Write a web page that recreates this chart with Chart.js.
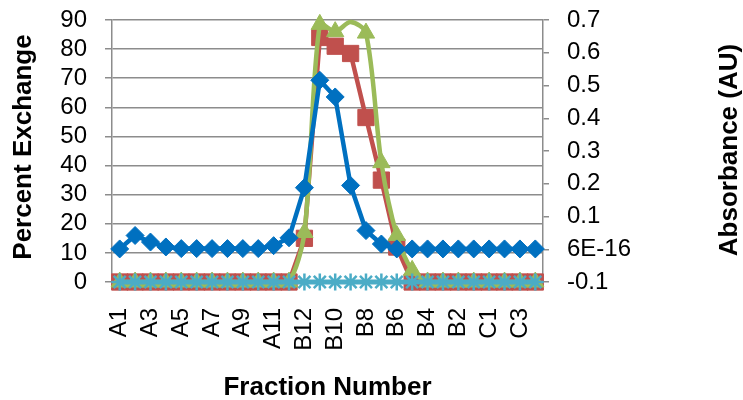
<!DOCTYPE html>
<html>
<head>
<meta charset="utf-8">
<script src="https://cdn.jsdelivr.net/npm/chart.js@4.4.1/dist/chart.umd.min.js"></script>
<style>
  html, body { margin: 0; padding: 0; background: #ffffff; }
  #wrap { width: 743px; height: 400px; }
</style>
</head>
<body>
<div id="wrap"><canvas id="chart" width="743" height="400"></canvas></div>
<script>
// Fractions collected across the elution (plate rows A, B, C)
const fractions = [
  'A1','A2','A3','A4','A5','A6','A7','A8','A9','A10','A11','A12',
  'B12','B11','B10','B9','B8','B7','B6','B5','B4','B3','B2','B1',
  'C1','C2','C3','C4'
];

// Percent exchange, left axis
const exchangeRed = [
  0, 0, 0, 0, 0, 0, 0, 0, 0, 0, 0, 0,
  15, 84, 81, 78.5, 56.5, 35, 12, 0, 0, 0, 0, 0,
  0, 0, 0, 0
];
const exchangeGreen = [
  0, 0, 0, 0, 0, 0, 0, 0, 0, 0, 0, 0,
  17, 88.5, 86, 89.3, 85.5, 41, 16, 4, 0, 0, 0, 0,
  0, 0, 0, 0
];
const exchangeTeal = [
  0, 0, 0, 0, 0, 0, 0, 0, 0, 0, 0, 0,
  0, 0, 0, 0, 0, 0, 0, 0, 0, 0, 0, 0,
  0, 0, 0, 0
];

// Absorbance (AU), right axis
const absorbanceBlue = [
  0.001, 0.042, 0.022, 0.007, 0.002, 0.002, 0.002, 0.002, 0.002, 0.002, 0.011, 0.035,
  0.188, 0.516, 0.465, 0.195, 0.057, 0.016, 0.001, 0.001, 0.001, 0.001, 0.001, 0.001,
  0.001, 0.001, 0.001, 0.001
];

// Axis ticks
const leftTickValues = [0, 10, 20, 30, 40, 50, 60, 70, 80, 90];
const rightTickValues = [-0.1, 0, 0.1, 0.2, 0.3, 0.4, 0.5, 0.6, 0.7];
const rightTickLabels = ['-0.1', '6E-16', '0.1', '0.2', '0.3', '0.4', '0.5', '0.6', '0.7'];

const FONT = "'Liberation Sans', Arial, Helvetica, sans-serif";
const GRID = '#8c8c8c';
const BLUE = '#0070C0', RED = '#C0504D', GREEN = '#9BBB59', TEAL = '#4BACC6';

// Axis titles; the vertical ones read bottom-to-top
const axisTitles = {
  id: 'axisTitles',
  afterDraw(chart) {
    const { ctx, chartArea } = chart;
    ctx.save();
    ctx.fillStyle = '#000000';
    ctx.font = 'bold 26px ' + FONT;
    ctx.textAlign = 'center';
    ctx.textBaseline = 'middle';
    ctx.fillText('Fraction Number', (chartArea.left + chartArea.right) / 2, 388);

    ctx.save();
    ctx.translate(24, 147);
    ctx.rotate(-Math.PI / 2);
    ctx.fillText('Percent Exchange', 0, 0);
    ctx.restore();

    ctx.save();
    ctx.translate(730, 150);
    ctx.rotate(-Math.PI / 2);
    ctx.fillText('Absorbance (AU)', 0, 0);
    ctx.restore();
    ctx.restore();
  }
};

// Fixed axis box sizes so the plot area sits at 112..543 x 20..282
function fixVertical(width) {
  return (scale) => {
    scale.width = width;
    scale.paddingTop = 0;
    scale.paddingBottom = 0;
  };
}

new Chart(document.getElementById('chart'), {
  type: 'line',
  data: {
    labels: fractions,
    datasets: [
      {
        label: 'Absorbance',
        data: absorbanceBlue,
        yAxisID: 'y1',
        clip: false,
        borderColor: BLUE,
        backgroundColor: BLUE,
        borderWidth: 4.5,
        pointStyle: 'rectRot',
        pointRadius: 9,
        pointBorderWidth: 1,
        pointBackgroundColor: BLUE,
        pointBorderColor: BLUE,
        tension: 0
      },
      {
        label: 'Exchange 3',
        data: exchangeTeal,
        yAxisID: 'y',
        clip: false,
        borderColor: TEAL,
        backgroundColor: TEAL,
        borderWidth: 5,
        pointStyle: 'star',
        pointRadius: 8.5,
        pointBorderWidth: 2.5,
        pointBorderColor: TEAL,
        tension: 0
      },
      {
        label: 'Exchange 2',
        data: exchangeGreen,
        yAxisID: 'y',
        clip: false,
        borderColor: GREEN,
        backgroundColor: GREEN,
        borderWidth: 4.5,
        pointStyle: 'triangle',
        pointRadius: (ctx) => (ctx.dataIndex === 15 ? 0 : 10),
        pointBorderWidth: 1,
        pointBackgroundColor: GREEN,
        pointBorderColor: GREEN,
        tension: 0.3
      },
      {
        label: 'Exchange 1',
        data: exchangeRed,
        yAxisID: 'y',
        clip: false,
        borderColor: RED,
        backgroundColor: RED,
        borderWidth: 4.5,
        pointStyle: 'rect',
        pointRadius: 11.5,
        pointBorderWidth: 1,
        pointBackgroundColor: RED,
        pointBorderColor: RED,
        tension: 0
      }
    ]
  },
  options: {
    responsive: false,
    animation: false,
    devicePixelRatio: 1,
    layout: { padding: { top: 20, left: 0, right: 0, bottom: 0 } },
    plugins: {
      legend: { display: false },
      tooltip: { enabled: false }
    },
    scales: {
      x: {
        type: 'category',
        offset: true,
        grid: { display: false, drawTicks: false },
        border: { display: true, color: GRID, width: 1.5 },
        ticks: {
          autoSkip: false,
          minRotation: 90,
          maxRotation: 90,
          padding: 26,
          color: '#000000',
          font: { family: FONT, size: 24 },
          callback: (value, index) => (index % 2 === 0 ? fractions[index] : '')
        },
        afterFit: (scale) => { scale.height = 118; }
      },
      y: {
        type: 'linear',
        position: 'left',
        min: leftTickValues[0],
        max: leftTickValues[leftTickValues.length - 1],
        grid: { display: true, drawOnChartArea: true, color: GRID, lineWidth: 1.5, tickLength: 7, drawTicks: true },
        border: { display: true, color: GRID, width: 1.5 },
        ticks: {
          stepSize: 10,
          autoSkip: false,
          padding: 18,
          color: '#000000',
          font: { family: FONT, size: 24 }
        },
        afterFit: fixVertical(112)
      },
      y1: {
        type: 'linear',
        position: 'right',
        min: rightTickValues[0],
        max: rightTickValues[rightTickValues.length - 1],
        grid: { drawOnChartArea: false, color: GRID, lineWidth: 1.5, tickLength: 6, drawTicks: true },
        border: { display: true, color: GRID, width: 1.5 },
        ticks: {
          stepSize: 0.1,
          autoSkip: false,
          padding: 18,
          color: '#000000',
          font: { family: FONT, size: 24 },
          callback: (value, index) => rightTickLabels[index]
        },
        afterFit: fixVertical(200)
      }
    }
  },
  plugins: [axisTitles]
});
</script>
</body>
</html>
